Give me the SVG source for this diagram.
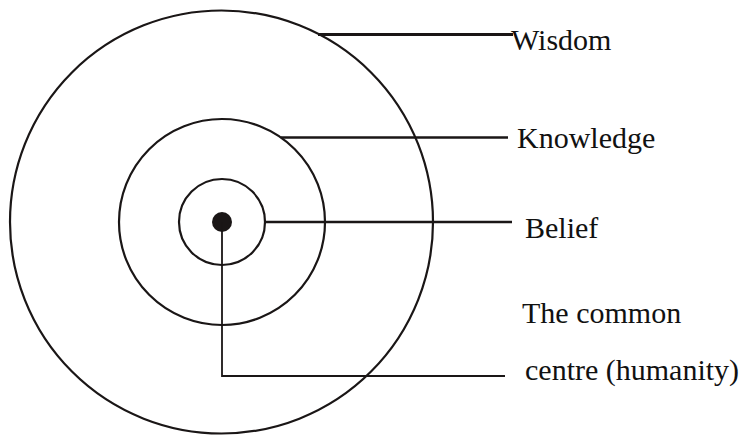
<svg xmlns="http://www.w3.org/2000/svg" width="747" height="435" viewBox="0 0 747 435">
<style>
.ring{fill:none;stroke:#1a1616;stroke-width:2.2}
.lead{fill:none;stroke:#1a1616;stroke-width:2.4}
.thin{fill:none;stroke:#1a1616;stroke-width:1.8}
text{font-family:'Liberation Serif', 'Times New Roman', Times, serif;font-size:30px;fill:#111}
</style>
<rect width="747" height="435" fill="#fff"/>
<g id="wisdom"><circle class="ring" cx="221.5" cy="222" r="211.5"/><text font-family="Liberation Serif" x="511" y="50">Wisdom</text></g>
<g id="knowledge"><circle class="ring" cx="222" cy="222" r="103"/><text font-family="Liberation Serif" x="517" y="148">Knowledge</text></g>
<g id="belief"><circle class="ring" cx="222" cy="222" r="43"/><text font-family="Liberation Serif" x="525" y="238">Belief</text></g>
<g id="centre"><circle cx="222" cy="222" r="10" fill="#1a1616"/><text font-family="Liberation Serif" x="522" y="323">The common</text><text font-family="Liberation Serif" x="525" y="380">centre (humanity)</text></g>
<g id="connectors">
<line class="lead" x1="318" y1="34.5" x2="513" y2="34.5" style="stroke-width:3.2"/>
<line class="lead" x1="281" y1="137.5" x2="508" y2="137.5"/>
<line class="lead" x1="265" y1="222" x2="512" y2="222"/>
<polyline class="thin" points="222,222 222,376 505,376"/>
</g>
</svg>
